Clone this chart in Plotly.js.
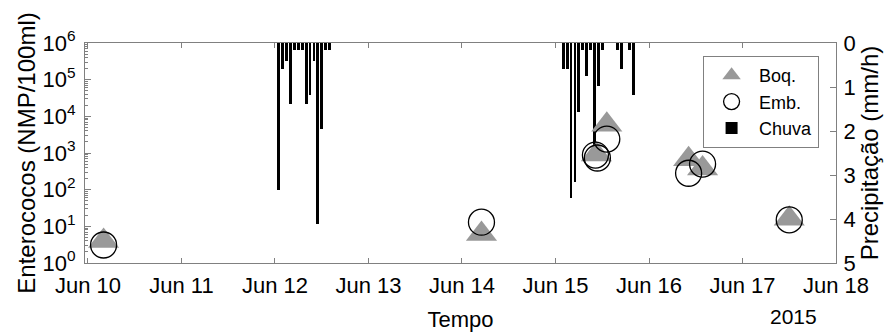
<!DOCTYPE html>
<html><head><meta charset="utf-8">
<script src="https://cdn.plot.ly/plotly-3.0.1.min.js"></script>
<style>html,body{margin:0;padding:0;background:#fff}#chart{width:894px;height:332px}</style>
</head><body><div id="chart"></div>
<script>
const FONT = 'Liberation Sans, Arial, Helvetica, sans-serif';

const dayTicks = ['2015-06-10','2015-06-11','2015-06-12','2015-06-13','2015-06-14','2015-06-15','2015-06-16','2015-06-17','2015-06-18'];
const dayLabels = ['Jun 10','Jun 11','Jun 12','Jun 13','Jun 14','Jun 15','Jun 16','Jun 17','Jun 18'];

// Chuva (mm/h), hourly
const rainTimes = [
  '2015-06-12 01:00','2015-06-12 02:00','2015-06-12 03:00','2015-06-12 04:00','2015-06-12 05:00',
  '2015-06-12 06:00','2015-06-12 07:00','2015-06-12 08:00','2015-06-12 09:00','2015-06-12 10:00',
  '2015-06-12 11:00','2015-06-12 12:00','2015-06-12 13:00','2015-06-12 14:00',
  '2015-06-15 02:00','2015-06-15 03:00','2015-06-15 04:00','2015-06-15 05:00','2015-06-15 06:00',
  '2015-06-15 07:00','2015-06-15 08:00','2015-06-15 09:00','2015-06-15 10:00','2015-06-15 11:00',
  '2015-06-15 12:00','2015-06-15 16:00','2015-06-15 17:00','2015-06-15 19:00','2015-06-15 20:00'
];
const rainValues = [
  3.34, 0.58, 0.40, 1.39, 0.17,
  0.17, 0.17, 1.39, 1.18, 0.40,
  4.12, 1.96, 0.17, 0.17,
  0.58, 0.58, 3.52, 3.15, 1.56,
  0.17, 0.76, 0.17, 2.60, 0.98,
  0.17, 0.17, 0.58, 0.17, 1.18
];

// Boq. (NMP/100ml)
const boqTimes = ['2015-06-10 04:00','2015-06-14 05:00','2015-06-15 10:30','2015-06-15 13:10','2015-06-16 10:10','2015-06-16 13:45','2015-06-17 12:00'];
const boqValues = [4, 6.2, 910, 5900, 680, 380, 16];

// Emb. (NMP/100ml)
const embTimes = ['2015-06-10 04:00','2015-06-14 05:00','2015-06-15 10:15','2015-06-15 10:45','2015-06-15 13:10','2015-06-16 10:10','2015-06-16 13:45','2015-06-17 12:00'];
const embValues = [3.1, 13, 880, 730, 2400, 280, 500, 15];

const logTickVals = [1, 10, 100, 1e3, 1e4, 1e5, 1e6];
const logTickText = ['10<sup>0</sup>','10<sup>1</sup>','10<sup>2</sup>','10<sup>3</sup>','10<sup>4</sup>','10<sup>5</sup>','10<sup>6</sup>'];
const precipTicks = [0, 1, 2, 3, 4, 5];

const minorVals = [];
logTickVals.slice(0, -1).forEach(d => { for (let k = 2; k <= 9; k++) minorVals.push(d * k); });

const AX = '#808080';

const traces = [
  {
    type: 'bar', name: 'Chuva', x: rainTimes, y: rainValues, yaxis: 'y',
    width: 2600000, marker: {color: '#000', line: {width: 0}}, legendrank: 3
  },
  {
    type: 'scatter', mode: 'markers', name: 'Boq.', x: boqTimes, y: boqValues, yaxis: 'y2',
    marker: {symbol: 'triangle-up', size: 27, color: '#999999', line: {width: 0}}, legendrank: 1
  },
  {
    type: 'scatter', mode: 'markers', name: 'Emb.', x: embTimes, y: embValues, yaxis: 'y2',
    marker: {symbol: 'circle-open', size: 26, color: '#000', line: {width: 1.3}}, legendrank: 2
  }
];

const layout = {
  width: 894, height: 332,
  margin: {l: 85, r: 58, t: 43, b: 69},
  paper_bgcolor: '#fff', plot_bgcolor: '#fff',
  font: {family: FONT, size: 22, color: '#000'},
  showlegend: true,
  bargap: 0,
  legend: {
    x: 0.823, y: 0.941, xanchor: 'left', yanchor: 'top',
    bgcolor: '#fff', bordercolor: AX, borderwidth: 1,
    font: {size: 18, family: FONT}, itemwidth: 45, tracegroupgap: 0
  },
  xaxis: {
    type: 'date', range: ['2015-06-09 23:14', '2015-06-18 00:00'],
    tickmode: 'array', tickvals: dayTicks, ticktext: dayLabels,
    ticks: 'inside', ticklen: 5, tickcolor: AX, tickwidth: 1,
    showline: true, linecolor: AX, linewidth: 1, mirror: 'ticks',
    showgrid: false, zeroline: false, automargin: false,
    tickfont: {size: 22}, ticklabelstandoff: 3,
    title: {text: 'Tempo', font: {size: 22}, standoff: 14}
  },
  yaxis: {
    range: [5, 0], side: 'right', tickmode: 'array', tickvals: precipTicks,
    ticks: 'inside', ticklen: 6, tickcolor: AX,
    showline: true, linecolor: AX, linewidth: 1,
    showgrid: false, zeroline: false, automargin: false,
    tickfont: {size: 22}, ticklabelstandoff: 2,
    title: {text: 'Precipitação (mm/h)', font: {size: 24}, standoff: 0}
  },
  yaxis2: {
    type: 'log', overlaying: 'y', side: 'left', range: [0, 6],
    tickmode: 'array', tickvals: logTickVals, ticktext: logTickText,
    ticks: 'inside', ticklen: 6, tickcolor: AX,
    minor: {tickmode: 'array', tickvals: minorVals, ticks: 'inside', ticklen: 3, tickcolor: AX, showgrid: false},
    showline: true, linecolor: AX, linewidth: 1,
    showgrid: false, zeroline: false, automargin: false,
    tickfont: {size: 22}, ticklabelstandoff: 4,
    title: {text: 'Enterococos (NMP/100ml)', font: {size: 24}, standoff: 0}
  },
  annotations: [
    {text: '2015', xref: 'paper', yref: 'paper', x: 0.943, y: -0.245, xanchor: 'center', yanchor: 'middle',
     showarrow: false, font: {size: 21, family: FONT, color: '#000'}}
  ]
};

Plotly.newPlot('chart', traces, layout, {displayModeBar: false, staticPlot: true});
</script>
</body></html>
